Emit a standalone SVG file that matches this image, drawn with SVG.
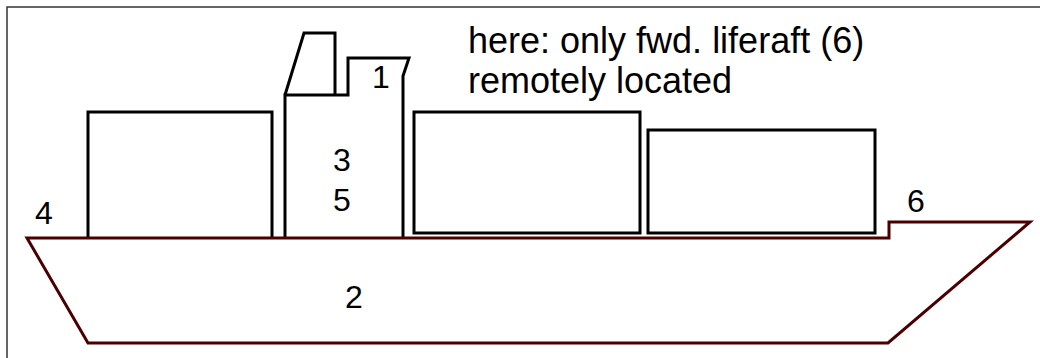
<svg xmlns="http://www.w3.org/2000/svg" width="1040" height="358" viewBox="0 0 1040 358">
  <style>
    .frame { fill: none; stroke: #333333; stroke-width: 1.5; }
    .hull { fill: none; stroke: #4a0000; stroke-width: 3; stroke-linejoin: miter; }
    .box { fill: none; stroke: #000000; stroke-width: 3; stroke-linejoin: miter; }
    .lbl { font-family: "Liberation Sans", Arial, sans-serif; font-size: 32px; fill: #000000; }
    .note { font-family: "Liberation Sans", Arial, sans-serif; font-size: 36px; fill: #000000; }
  </style>
  <rect width="1040" height="358" fill="#ffffff"/>
  <!-- outer frame: top and left edges -->
  <path class="frame" d="M7,358 V7 H1040"/>

  <!-- cargo containers -->
  <g id="container-aft">
    <path class="box" d="M88,238 V112 H272 V238"/>
  </g>
  <g id="container-mid">
    <rect class="box" x="414" y="112" width="226" height="121"/>
  </g>
  <g id="container-fwd">
    <rect class="box" x="648" y="130" width="227" height="103"/>
  </g>

  <!-- accommodation block with funnel -->
  <g id="superstructure">
    <path class="box" d="M285,238 V95 H348 V58 H409 L403,76 V238"/>
    <path class="box" d="M285,95 L304,33 H335 V95"/>
    <text class="lbl" x="381" y="88" text-anchor="middle">1</text>
    <text class="lbl" x="342" y="171" text-anchor="middle">3</text>
    <text class="lbl" x="342" y="211" text-anchor="middle">5</text>
  </g>

  <!-- hull -->
  <g id="hull">
    <path class="hull" d="M27,238 L88,343 H888 L1030,222 H889 V238 Z"/>
    <text class="lbl" x="354" y="308" text-anchor="middle">2</text>
  </g>

  <g id="aft-liferaft">
    <text class="lbl" x="44" y="224" text-anchor="middle">4</text>
  </g>
  <g id="fwd-liferaft">
    <text class="lbl" x="916" y="212" text-anchor="middle">6</text>
  </g>

  <g id="note">
    <text class="note" x="468" y="53">here: only fwd. liferaft (6)</text>
    <text class="note" x="468" y="93">remotely located</text>
  </g>

  <g id="connectors"/>
</svg>
